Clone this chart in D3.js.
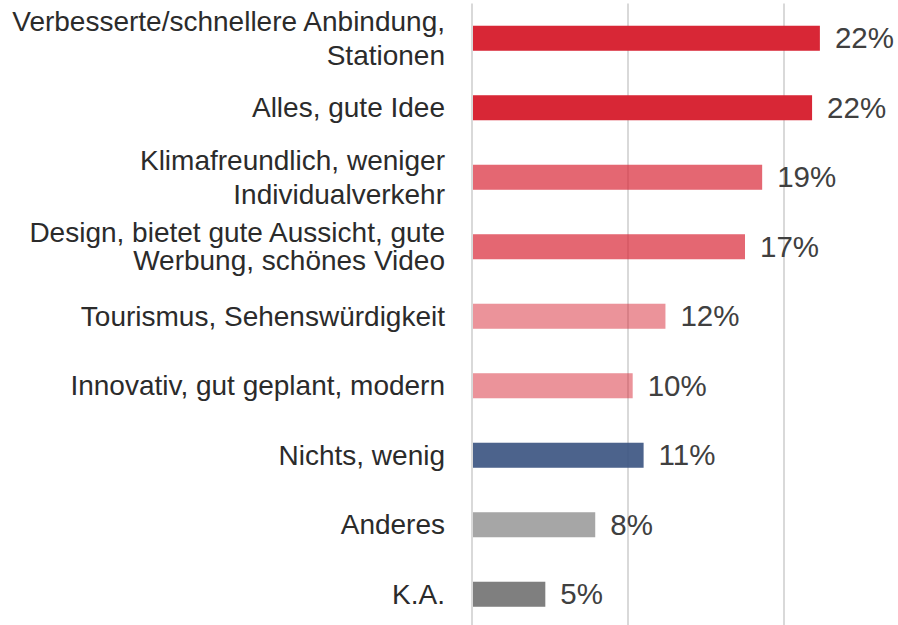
<!DOCTYPE html>
<html>
<head>
<meta charset="utf-8">
<script src="https://cdn.jsdelivr.net/npm/d3@7"></script>
<style>
  body { margin: 0; background: #fff; }
  text { font-family: "Liberation Sans", Arial, sans-serif; }
</style>
</head>
<body>
<div id="chart"></div>
<script>
var w = 898,
	h = 625;

// Kategorien (Zeilenumbruch mit \n)
var categories = [
	"Verbesserte/schnellere Anbindung,\nStationen",
	"Alles, gute Idee",
	"Klimafreundlich, weniger\nIndividualverkehr",
	"Design, bietet gute Aussicht, gute\nWerbung, schönes Video",
	"Tourismus, Sehenswürdigkeit",
	"Innovativ, gut geplant, modern",
	"Nichts, wenig",
	"Anderes",
	"K.A."
];

// Werte in %
var values = [22.3, 21.8, 18.6, 17.5, 12.4, 10.3, 11.0, 7.9, 4.7];

// Beschriftungen
var valueLabels = ["22%", "22%", "19%", "17%", "12%", "10%", "11%", "8%", "5%"];

// x-Achse Ticks
var xTicks = [0, 10, 20, 30];

// Farben
var colors = ["#d82736", "#d82736", "#d82736", "#d82736", "#d82736", "#d82736", "#38527f", "#a6a6a6", "#7f7f7f"];
var opacities = [1, 1, 0.7, 0.7, 0.5, 0.5, 0.9, 1, 1];
var lineGap = [34, 0, 34, 28, 0, 0, 0, 0, 0];

var margin = {top: 3.5, left: 472, bottom: -4};

var svg = d3.select("#chart")
	.append("svg")
	.attr("width", w)
	.attr("height", h);

var x = d3.scaleLinear()
	.domain([0, 30])
	.range([margin.left, margin.left + 468]);

var y = d3.scaleBand()
	.domain(categories)
	.range([margin.top, h - margin.bottom])
	.paddingInner(0.64)
	.paddingOuter(0.32);

// Gitternetz
svg.append("g")
	.selectAll("line")
	.data(xTicks)
	.enter()
	.append("line")
	.attr("x1", function(d){ return x(d); })
	.attr("x2", function(d){ return x(d); })
	.attr("y1", margin.top)
	.attr("y2", h - margin.bottom)
	.attr("stroke", "#d9d9d9")
	.attr("stroke-width", 2);

// Balken
svg.append("g")
	.selectAll("rect")
	.data(values)
	.enter()
	.append("rect")
	.attr("x", x(0) + 1)
	.attr("y", function(d, i){ return y(categories[i]); })
	.attr("width", function(d){ return x(d) - x(0) - 1; })
	.attr("height", y.bandwidth())
	.attr("fill", function(d, i){ return colors[i]; })
	.attr("fill-opacity", function(d, i){ return opacities[i]; });

// Werte
svg.append("g")
	.selectAll("text")
	.data(values)
	.enter()
	.append("text")
	.attr("x", function(d){ return x(d) + 15; })
	.attr("y", function(d, i){ return y(categories[i]) + y.bandwidth() / 2 + 10; })
	.attr("font-size", "29.5px")
	.attr("fill", "#404040")
	.text(function(d, i){ return valueLabels[i]; });

// Kategorie-Beschriftungen
var labels = svg.append("g")
	.selectAll("text")
	.data(categories)
	.enter()
	.append("text")
	.attr("text-anchor", "end")
	.attr("font-size", "28px")
	.attr("fill", "#2b2b2b")
	.attr("y", function(d, i){
		var lines = d.split("\n").length;
		return y(d) + y.bandwidth() / 2 + 9.5 - (lines - 1) * lineGap[i] / 2;
	});

labels.each(function(d, i){
	var t = d3.select(this);
	d.split("\n").forEach(function(line, j){
		t.append("tspan")
			.attr("x", 445)
			.attr("dy", j == 0 ? 0 : lineGap[i])
			.text(line);
	});
});
</script>
</body>
</html>
